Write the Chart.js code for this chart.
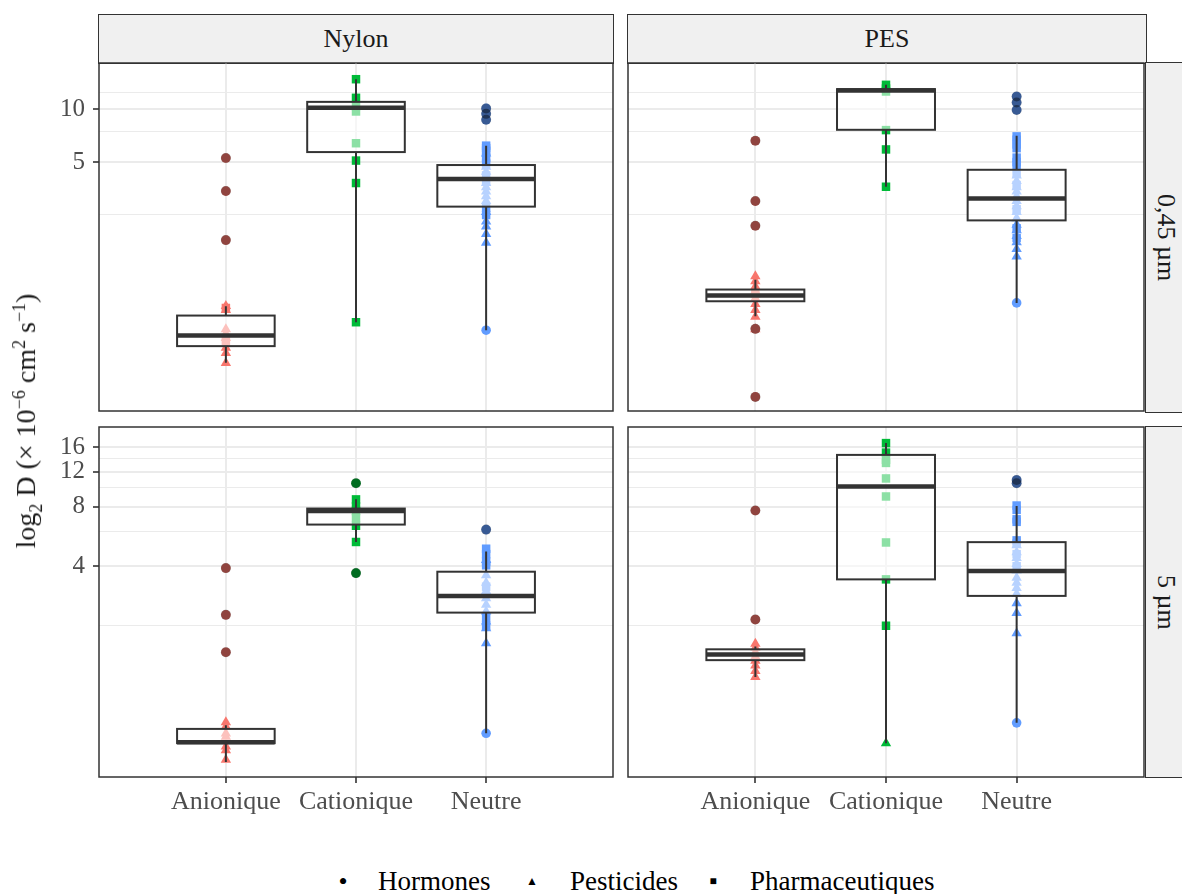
<!DOCTYPE html>
<html>
<head>
<meta charset="utf-8">
<script src="https://cdn.jsdelivr.net/npm/chart.js@4.4.1/dist/chart.umd.min.js"></script>
<style>
  body { margin: 0; width: 1182px; height: 894px; background: #fff; position: relative; overflow: hidden;
         font-family: 'Liberation Serif', serif; }
  canvas { position: absolute; }
  .strip { position: absolute; box-sizing: border-box; border: 1.5px solid #333; background: #F0F0F0;
           color: #1a1a1a; font-size: 26px; display: flex; align-items: center; justify-content: center; }
  .vert { writing-mode: vertical-rl; }
  #ytitle { position: absolute; left: 28px; top: 421px; transform: translate(-50%, -50%) rotate(-90deg);
            white-space: nowrap; font-size: 28px; color: #1a1a1a; }
  #ytitle sub, #ytitle sup { font-size: 18px; }
  .leg { position: absolute; top: 868px; font-size: 27px; line-height: 26px; color: #000; white-space: nowrap; }
  .sym { position: absolute; color: #000; transform: translate(-50%, -50%); line-height: 1; }
</style>
</head>
<body>
<div class="strip" style="left:98px; top:14px; width:516px; height:50px;">Nylon</div>
<div class="strip" style="left:627px; top:14px; width:520px; height:50px;">PES</div>
<div class="strip vert" style="left:1145px; top:62px; width:42px; height:351px;">0,45 µm</div>
<div class="strip vert" style="left:1145px; top:426px; width:42px; height:352px;">5 µm</div>

<canvas id="tl"></canvas>
<canvas id="tr"></canvas>
<canvas id="bl"></canvas>
<canvas id="br"></canvas>

<div id="ytitle">log<sub>2</sub> D (× 10<sup>−6</sup> cm<sup>2</sup> s<sup>−1</sup>)</div>

<span class="sym" style="left:343px; top:882px; font-size:26px;">•</span>
<span class="leg" style="left:378px;">Hormones</span>
<span class="sym" style="left:532px; top:881px; font-size:12px;">▲</span>
<span class="leg" style="left:570px;">Pesticides</span>
<span class="sym" style="left:713px; top:881px; font-size:12px;">■</span>
<span class="leg" style="left:750px;">Pharmaceutiques</span>

<script>
const categories = ['Anionique', 'Cationique', 'Neutre'];
const groupColors = ['#F8766D', '#00BA38', '#619CFF'];

// y breaks for each facet row (log2 scale)
const topRange = [0.192, 18.3];
const topMajor = [5, 10];
const topMinor = [2.5, 7.5, 12.5];
const bottomRange = [0.344, 20.2];
const bottomMajor = [4, 8, 12, 16];
const bottomMinor = [2, 6, 10, 14];

// box stats per category: [lower whisker, Q1, median, Q3, upper whisker]
const nylon045Box = [[0.361, 0.449, 0.516, 0.670, 0.757], [0.614, 5.70, 10.2, 11.0, 14.8], [0.553, 2.79, 4.00, 4.81, 6.19]];
const pes045Box = [[0.664, 0.808, 0.871, 0.942, 1.07], [3.62, 7.63, 12.76, 13.0, 13.75], [0.791, 2.33, 3.10, 4.52, 7.06]];
const nylon5Box = [[0.410, 0.510, 0.516, 0.602, 0.629], [5.30, 6.49, 7.61, 7.82, 8.72], [0.572, 2.33, 2.83, 3.75, 4.74]];
const pes5Box = [[1.10, 1.34, 1.43, 1.52, 1.57], [0.509, 3.43, 10.1, 14.6, 16.75], [0.646, 2.83, 3.78, 5.29, 8.06]];

// points per category (Anionique, Cationique, Neutre)
const nylon045Hormones = [[5.27, 3.42, 1.80], [], [10.1, 9.4, 8.7, 0.553]];
const nylon045Pesticides = [[0.76, 0.72, 0.56, 0.53, 0.50, 0.44, 0.41, 0.36], [],
  [5.6, 4.7, 4.4, 4.1, 3.8, 3.6, 3.4, 3.2, 3.0, 2.6, 2.3, 2.15, 1.95, 1.74]];
const nylon045Pharma = [[0.74, 0.48], [14.8, 11.6, 10.4, 9.7, 6.4, 5.1, 3.8, 0.614],
  [6.2, 6.0, 5.8, 5.3, 4.9, 4.2, 3.9, 2.75, 2.5]];
const nylon045Outliers = [[5.27, 3.42, 1.80], [], [10.1, 9.4, 8.7]];

const pes045Hormones = [[6.61, 3.0, 2.17, 0.563, 0.231], [], [11.8, 10.9, 9.9, 0.791]];
const pes045Pesticides = [[1.12, 1.05, 0.98, 0.92, 0.88, 0.84, 0.78, 0.72, 0.66, 0.56], [],
  [4.2, 3.9, 3.6, 3.4, 3.2, 3.0, 2.8, 2.6, 2.4, 2.2, 2.05, 1.9, 1.75, 1.6, 1.45]];
const pes045Pharma = [[0.90], [13.75, 13.1, 12.6, 7.6, 5.9, 3.62],
  [7.0, 6.7, 6.3, 6.0, 5.3, 5.0, 4.8, 4.3, 3.7, 2.7, 2.1, 1.85]];
const pes045Outliers = [[6.61, 3.0, 2.17, 0.563, 0.231], [], [11.8, 10.9, 9.9]];

const nylon5Hormones = [[3.91, 2.27, 1.47], [10.5, 3.69], [6.12, 0.572]];
const nylon5Pesticides = [[0.65, 0.62, 0.57, 0.55, 0.49, 0.47, 0.42], [],
  [4.3, 3.6, 3.3, 3.0, 2.75, 2.55, 2.36, 2.1, 1.94, 1.63]];
const nylon5Pharma = [[], [8.7, 8.0, 7.6, 7.0, 6.4, 5.3], [4.9, 4.6, 4.22, 4.04, 3.15, 2.19, 2.0]];
const nylon5Outliers = [[3.91, 2.27, 1.47], [10.5, 3.69], [6.12]];

const pes5Hormones = [[7.64, 2.15], [], [10.9, 10.5, 0.646]];
const pes5Pesticides = [[1.62, 1.55, 1.47, 1.40, 1.33, 1.26, 1.18, 1.10], [0.51],
  [5.1, 4.7, 4.4, 4.1, 3.8, 3.5, 3.3, 3.1, 2.9, 2.6, 2.32, 1.83]];
const pes5Pharma = [[], [16.75, 15.0, 13.8, 13.3, 11.1, 9.0, 5.27, 3.43, 2.0],
  [8.1, 7.7, 6.9, 6.7, 5.4, 5.2, 4.6, 4.0]];
const pes5Outliers = [[7.64, 2.15], [], [10.9, 10.5]];

Chart.defaults.font.family = "'Liberation Serif', serif";

function toPoints (groups) {
  const pts = [];
  groups.forEach((vals, i) => vals.forEach(v => pts.push({ x: i, y: v })));
  return pts;
}

function toColors (groups) {
  const cols = [];
  groups.forEach((vals, i) => vals.forEach(() => cols.push(groupColors[i])));
  return cols;
}

// boxes go above the points but under the outlier dots
const boxPlugin = {
  id: 'boxes',
  beforeDatasetDraw (chart, args, opts) {
    if (args.index !== 0) return;
    const { ctx, scales: { x, y } } = chart;
    ctx.save();
    ctx.strokeStyle = '#333333';
    opts.stats.forEach((s, i) => {
      const cx = x.getPixelForValue(i);
      const hw = x.getPixelForValue(i + 0.375) - cx;
      const [lo, q1, med, q3, hi] = s.map(v => y.getPixelForValue(v));
      ctx.lineWidth = 2;
      ctx.beginPath();
      ctx.moveTo(cx, q3); ctx.lineTo(cx, hi);
      ctx.moveTo(cx, q1); ctx.lineTo(cx, lo);
      ctx.stroke();
      ctx.fillStyle = 'rgba(255,255,255,0.55)';
      ctx.fillRect(cx - hw, q3, 2 * hw, q1 - q3);
      ctx.strokeRect(cx - hw, q3, 2 * hw, q1 - q3);
      ctx.lineWidth = 4.5;
      ctx.beginPath();
      ctx.moveTo(cx - hw, med); ctx.lineTo(cx + hw, med);
      ctx.stroke();
    });
    ctx.restore();
  },
  afterDraw (chart) {
    const { ctx, chartArea: a } = chart;
    ctx.save();
    ctx.strokeStyle = '#333333';
    ctx.lineWidth = 1.5;
    ctx.strokeRect(a.left, a.top, a.right - a.left, a.bottom - a.top);
    ctx.restore();
  }
};

function panel (id, canvasRect, area, cfg) {
  const el = document.getElementById(id);
  const [cx, cy, cw, ch] = canvasRect;
  const [L, T, R, B] = area;
  el.style.left = cx + 'px';
  el.style.top = cy + 'px';
  el.width = cw;
  el.height = ch;

  const isMajor = v => cfg.major.includes(v);

  return new Chart(el, {
    type: 'scatter',
    data: {
      datasets: [
        { data: toPoints(cfg.outliers), pointStyle: 'circle', pointRadius: 5,
          pointBackgroundColor: 'rgba(0,0,0,0.42)', pointBorderWidth: 0, order: 0 },
        { data: toPoints(cfg.hormones), pointStyle: 'circle', pointRadius: 4.8,
          pointBackgroundColor: toColors(cfg.hormones), pointBorderWidth: 0, order: 1 },
        { data: toPoints(cfg.pesticides), pointStyle: 'triangle', pointRadius: 6,
          pointBackgroundColor: toColors(cfg.pesticides), pointBorderWidth: 0, order: 2 },
        { data: toPoints(cfg.pharma), pointStyle: 'rect', pointRadius: 6,
          pointBackgroundColor: toColors(cfg.pharma), pointBorderWidth: 0, order: 3 }
      ]
    },
    options: {
      responsive: false,
      animation: false,
      devicePixelRatio: 1,
      events: [],
      layout: { padding: { top: T - cy, right: cx + cw - R, left: 0, bottom: 0 } },
      plugins: {
        legend: { display: false },
        tooltip: { enabled: false },
        boxes: { stats: cfg.box }
      },
      scales: {
        x: {
          type: 'linear',
          min: -0.975,
          max: 2.975,
          bounds: 'data',
          afterBuildTicks: s => {
            s.ticks = [0, 1, 2].map(v => ({ value: v }))
            s.min = -0.975; s.max = 2.975
          },
          afterFit: s => {
            s.height = cy + ch - B
            s.paddingLeft = 0; s.paddingRight = 0
          },
          border: { display: false },
          grid: {
            color: '#EBEBEB',
            lineWidth: 2,
            drawTicks: cfg.showX,
            tickLength: 6,
            tickColor: '#333333',
            tickWidth: 1.6
          },
          ticks: {
            display: cfg.showX,
            autoSkip: false,
            maxRotation: 0,
            minRotation: 0,
            padding: 4,
            color: '#4D4D4D',
            font: { size: 26 },
            callback: v => categories[v]
          }
        },
        y: {
          type: 'logarithmic',
          min: cfg.range[0],
          max: cfg.range[1],
          bounds: 'data',
          afterBuildTicks: s => {
            s.ticks = cfg.minor.concat(cfg.major).sort((a, b) => a - b).map(v => ({ value: v }))
            // chart.js rounds the log min to a tick, put the real limits back
            s.min = cfg.range[0]; s.max = cfg.range[1]
          },
          afterFit: s => {
            s.width = L - cx
            s.paddingTop = 0; s.paddingBottom = 0
          },
          border: { display: false },
          grid: {
            color: '#EBEBEB',
            lineWidth: c => isMajor(c.tick.value) ? 2 : 1.1,
            drawTicks: cfg.showY,
            tickLength: 6,
            tickColor: c => isMajor(c.tick.value) ? '#333333' : 'rgba(0,0,0,0)',
            tickWidth: 1.6
          },
          ticks: {
            display: cfg.showY,
            autoSkip: false,
            padding: 8,
            color: '#4D4D4D',
            font: { size: 25 },
            callback: v => isMajor(v) ? String(v) : ''
          }
        }
      }
    },
    plugins: [boxPlugin]
  });
}

panel('tl', [0, 55, 620, 362], [99, 63, 613, 412], {
  box: nylon045Box, hormones: nylon045Hormones, pesticides: nylon045Pesticides, pharma: nylon045Pharma,
  outliers: nylon045Outliers, range: topRange, major: topMajor, minor: topMinor, showX: false, showY: true
});
panel('tr', [620, 55, 530, 362], [628, 63, 1146, 412], {
  box: pes045Box, hormones: pes045Hormones, pesticides: pes045Pesticides, pharma: pes045Pharma,
  outliers: pes045Outliers, range: topRange, major: topMajor, minor: topMinor, showX: false, showY: false
});
panel('bl', [0, 420, 620, 400], [99, 427, 613, 777], {
  box: nylon5Box, hormones: nylon5Hormones, pesticides: nylon5Pesticides, pharma: nylon5Pharma,
  outliers: nylon5Outliers, range: bottomRange, major: bottomMajor, minor: bottomMinor, showX: true, showY: true
});
panel('br', [620, 420, 530, 400], [628, 427, 1146, 777], {
  box: pes5Box, hormones: pes5Hormones, pesticides: pes5Pesticides, pharma: pes5Pharma,
  outliers: pes5Outliers, range: bottomRange, major: bottomMajor, minor: bottomMinor, showX: true, showY: false
});
</script>
</body>
</html>
